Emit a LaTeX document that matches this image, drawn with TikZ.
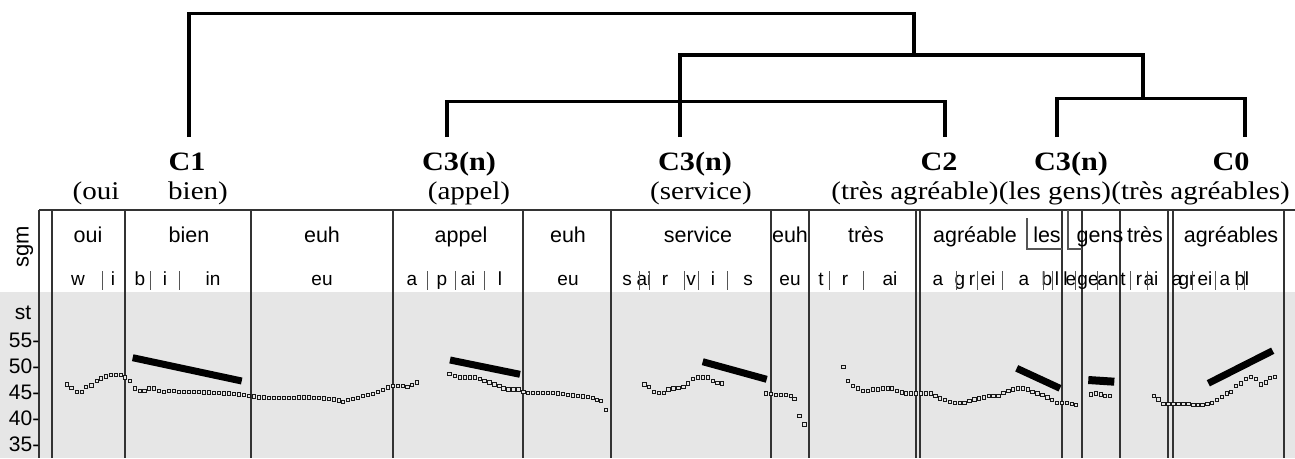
\documentclass[tikz,border=0pt]{standalone}
\usepackage{fontspec}
\setmainfont{Liberation Serif}
\newfontfamily\serifwide[FakeStretch=1.14]{Liberation Serif}
\newfontfamily\tierfont{Liberation Sans}
\definecolor{panelgray}{HTML}{E6E6E6}
\definecolor{rulegray}{HTML}{333333}
\definecolor{sepgray}{HTML}{555555}
\tikzset{
  cls/.style={font=\serifwide\fontsize{26.5}{30}\selectfont\bfseries, inner sep=0pt, anchor=base},
  grp/.style={font=\serifwide\fontsize{25.5}{30}\selectfont, inner sep=0pt, anchor=base},
  word/.style={font=\tierfont\fontsize{21.5}{24}\selectfont, inner sep=0pt, anchor=base},
  phon/.style={font=\tierfont\fontsize{19}{20}\selectfont, inner sep=0pt, anchor=base},
  axislbl/.style={font=\tierfont\fontsize{21}{22}\selectfont, inner sep=0pt},
  tree/.style={line width=3.5pt, line join=miter, line cap=butt},
  tierline/.style={rulegray, line width=1.1pt},
  bracket/.style={sepgray, line width=1.1pt},
  phsep/.style={sepgray, line width=0.9pt},
  stylbar/.style={line width=7pt, line cap=butt},
  f0dot/.style={draw=black!90, fill=panelgray, line width=0.9pt},
}
\begin{document}
\begin{tikzpicture}[x=1pt, y=-1pt]
\useasboundingbox (0,0) rectangle (1295,458);

% ---- pitch panel background ----
\fill[panelgray] (0,292) rectangle (1295,458);

% ---- cluster labels ----
\node[cls] (c1) at (187,170) {C1};
\node[cls] (c3a) at (459,170) {C3(n)};
\node[cls] (c3s) at (695,170) {C3(n)};
\node[cls] (c2) at (939,170) {C2};
\node[cls] (c3g) at (1071,170) {C3(n)};
\node[cls] (c0) at (1231,170) {C0};

\node[grp] (g1) at (96,199) {(oui};
\node[grp] (g2) at (198,199) {bien)};
\node[grp] (g3) at (469,199) {(appel)};
\node[grp, anchor=base east] (g4) at (752,199) {(service)};
\node[grp, anchor=base east] (g7) at (1290,199) {(très agréables)};
\node[grp, anchor=base east] (g6) at (g7.base west) {(les gens)};
\node[grp, anchor=base east] (g5) at (g6.base west) {(très agréable)};

% ---- dendrogram ----
\coordinate (l1) at (189,137);
\coordinate (l2) at (447,137);
\coordinate (l3) at (680,137);
\coordinate (l4) at (945,137);
\coordinate (l5) at (1057,137);
\coordinate (l6) at (1245,137);
\coordinate (top) at (914,13.5);
\coordinate (mid) at (1143,55);

\draw[tree] (l1) |- (top) -- (top |- mid);
\draw[tree] (l3) -- (l3 |- mid) -- (mid) -- (1143,98.5);
\draw[tree] (l2) -- (447,101.5) -- (945,101.5) -- (l4);
\draw[tree] (l5) -- (1057,98.5) -- (1245,98.5) -- (l6);

% ---- tier frame ----
\draw[tierline] (39,210) -- (1295,210);
\foreach \x in {39,52,125,251,393,523,611,771,809,916,920,1062,1082,1120,1168,1173,1284}
  \draw[tierline] (\x,210) -- (\x,458);
\draw[bracket] (1027,218) -- (1027,249) -- (1062,249);
\draw[bracket] (1068,210) -- (1068,249) -- (1082,249);

\node[axislbl, font=\tierfont\fontsize{22}{24}\selectfont, rotate=90] (sgm) at (25,247) {sgm};

% ---- word tier ----
\node[word] (w1) at (88,242) {oui};
\node[word] (w2) at (189,242) {bien};
\node[word] (w3) at (322,242) {euh};
\node[word] (w4) at (461,242) {appel};
\node[word] (w5) at (568,242) {euh};
\node[word] (w6) at (698,242) {service};
\node[word] (w7) at (790,242) {euh};
\node[word] (w8) at (866,242) {très};
\node[word] (w9) at (975,242) {agréable};
\node[word] (w10) at (1047,242) {les};
\node[word] (w11) at (1100,242) {gens};
\node[word] (w12) at (1145,242) {très};
\node[word] (w13) at (1231,242) {agréables};

% ---- phone tier ----
\foreach \x/\t [count=\i] in {78/w,113/i,140/b,165/i,213/in,322/eu,
  412/a,442/p,468/ai,500/l,568/eu,
  627/s,644/ai,665/r,691/v,713/i,748/s,790/eu,
  821/t,845/r,890/ai,
  938/a,960/g,972/r,988/ei,1024/a,1047/b,1057/l,1065.5/l,1071/e,
  1088/ge,1108/an,1123/t,1139/r,1151/ai,
  1177/a,1187/gr,1205/ei,1225/a,1240/b,1247/l}
  \node[phon] (ph\i) at (\x,285) {\t};
\foreach \x in {102,150,179,427,455,484,639,649,684,698,727,829,863,
  956,977,1002,1043,1052,1075,1097,1130,1147,1192,1215,1237,1244}
  \draw[phsep] (\x,271) -- (\x,290);

% ---- semitone axis ----
\node[axislbl] (st) at (23,313) {st};
\foreach \v/\y in {55/340,50/366,45/392,40/418,35/444}
  \node[axislbl, anchor=east] (ax\v) at (39.5,\y) {\v-};

% ---- F0 samples (small hollow squares) ----
\foreach \x/\y in {
  66.7/384.3,71.5/388,76.7/392,81.7/392,86/386.7,91.3/385.3,96.7/381,101/378.5,106/376.3,111/375,116/375,121/375,125/377.5,130/381,
  135/388.3,140/391,144.5/391,149/388.3,154/388.3,159/391,164/391.7,169/391,174/390.7,179/391.7,184/391.7,189/391.7,194/392,199/392,204/392.5,209/392.5,214/393,219/393,224/393.5,229/393.5,234/394,239/394.5,244/395,249/396,254/396.5,259/397.5,264/397.5,269/398,274/398,279/398,284/398,289/398,294/398,299/397.5,304/397.5,309/397.5,314/398,319/398,324/398.5,329/399,334/399.5,339/400.5,343/401.7,348/400,353/399,358/397.7,363/395.7,368/395,373/394,378/391.7,383/390,388/387.3,393/385.7,398/385.7,403/385.7,407.5/386.7,412/385,417/382.3,
  449.3/374,455/376,460/377.3,465/377.3,470/377.3,475/377.3,480/379,484.3/381,489.3/382.3,494.3/384.3,499.3/385.7,503.3/388.3,508.3/389.3,513.3/389.3,518.3/389.3,523.3/391.7,528/392.7,533/392.7,538/392.7,543/392.7,548/392.7,553/392.7,558/393.5,563/394,568/395,573/395.5,578/396,583/396.5,588/397,593/398,597/400,601/400.7,605.7/410,
  644.3/384.3,649/386.7,654/391.7,659/392.7,664/392.7,668.3/389.3,673.3/388.3,678.3/387.7,683.3/386.7,687.7/383.3,692.7/379,697.7/377.3,702.7/377.3,707.7/377.3,712.7/381,717.3/382.7,721.7/383.3,
  765.7/393.3,770.7/394,775.7/395,780.7/395,785.7/395,790.7/395.7,794.3/399,799.3/415.7,804.3/424.3,
  843.3/366.7,847.7/381,852.7/386,857.7/388.3,862.7/390.7,867.7/390.7,872.7/389.3,877.7/389.3,882.7/388.3,887.7/388.3,891.7/388.3,896.7/390.7,901.7/392.3,906/393.3,911/393.3,916/393.3,921/393.3,926/393.3,931/393.3,935.3/395.7,940/398.3,945/400,950/401.7,955/402.7,960/402.7,964.3/402.7,969.3/400.7,974.3/399.3,979/398.3,984/397.3,989/395.7,993.3/395.7,998.3/395.7,1003.3/392.7,1008.3/390.7,1012.7/389.3,1017.7/388.3,1022.7/388.3,1027.7/389.3,1032.3/391.7,1037.3/393.3,1042.3/395,1047.3/397.3,1051.7/400,1056.7/402.7,1061.7/402.7,1066.7/402.7,1071.7/404,1076/405,
  1090.7/394.3,1095.7/393.3,1100.7/394.3,1105/395.7,1110/395.7,
  1154/395.7,1158.3/399.3,1163.3/404,1168.3/404,1173.3/404,1178.3/404,1183.3/404,1188.3/404,1193.3/405,1197.7/405,1202.3/405,1207.3/404,1211.7/402.7,1216.7/400,1221.7/396.7,1226.7/393.3,1231/391.7,1236/386,1241/383.3,1246/379,1250.7/376.7,1255.7/379,1260.7/384.3,1265.7/382.3,1270/377.7,1275/376.7}
  \draw[f0dot] (\x-1.7,\y-1.7) rectangle (\x+1.7,\y+1.7);

% ---- stylised pitch movements ----
\draw[stylbar] (132.7,357.7) -- (241.7,381);
\draw[stylbar] (450,360) -- (520,374.3);
\draw[stylbar] (702.7,361.7) -- (766.7,379.3);
\draw[stylbar] (1016.7,368.3) -- (1060,388.3);
\draw[stylbar, line width=8pt] (1088.3,380) -- (1114.3,381.7);
\draw[stylbar] (1208.3,383.3) -- (1272.7,350.7);
\end{tikzpicture}
\end{document}
